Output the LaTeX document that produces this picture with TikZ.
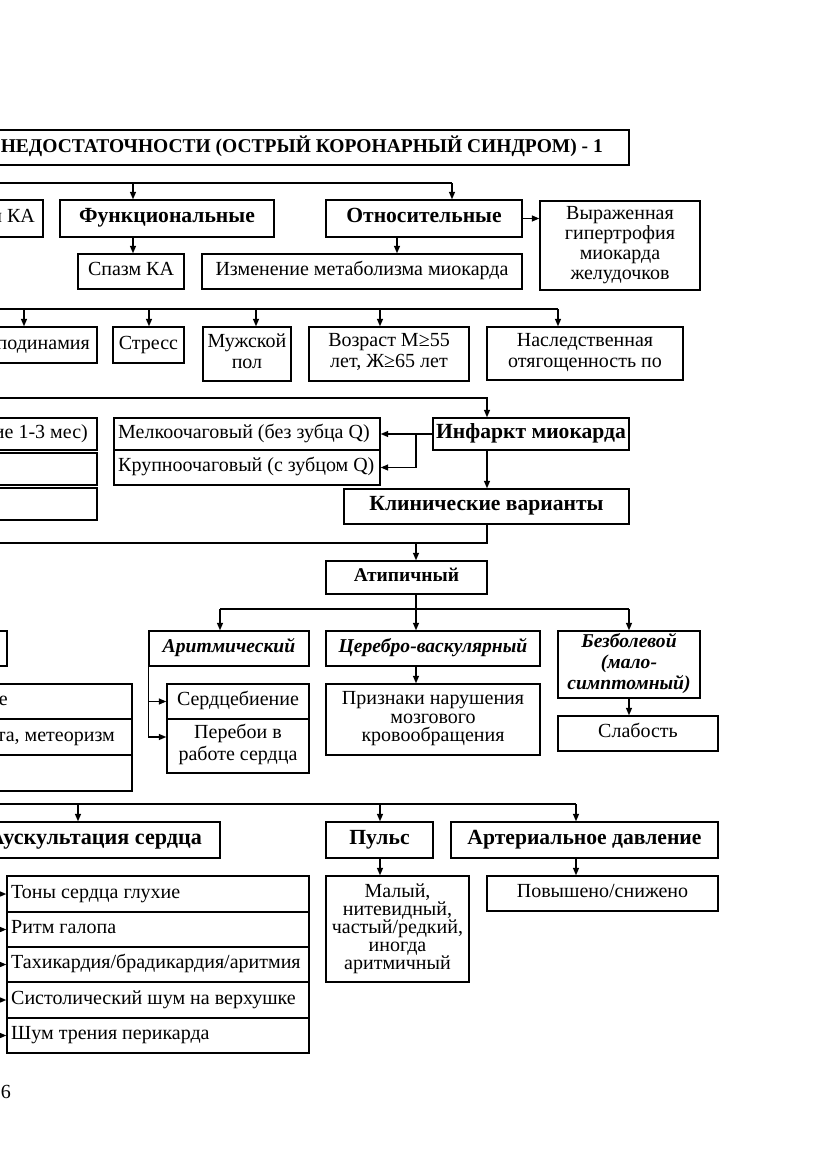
\documentclass[tikz,border=0pt]{standalone}
\usepackage{fontspec}
\setmainfont{Liberation Serif}
\usetikzlibrary{arrows.meta}
\newcommand\bx[7][]{%
  \pgfmathsetmacro\bxw{#5-(#3)}\pgfmathsetmacro\bxh{#6-(#4)}%
  \pgfmathsetmacro\bxx{(#3+#5)/2}\pgfmathsetmacro\bxy{(#4+#6)/2}%
  \node[box,minimum width=\bxw pt,minimum height=\bxh pt,#1] (#2) at (\bxx,\bxy) {#7};}
\begin{document}
\begin{tikzpicture}[x=1pt,y=-1pt,
  box/.style={draw,line width=1.4pt,inner sep=0pt,align=center,font=\fontsize{20}{20}\selectfont,
    execute at begin node=\strut,execute at end node=\strut},
  bb/.style={font=\fontsize{21.6}{22}\selectfont\bfseries},
  bi/.style={font=\fontsize{19.6}{21}\selectfont\bfseries\itshape},
  txt/.style={inner sep=0pt,font=\fontsize{20}{20}\selectfont,execute at begin node=\strut},
  ln/.style={line width=1.4pt},
  arr/.style={line width=1.4pt,-{Triangle[length=7.5pt,width=6pt]}}]
\useasboundingbox (0,0) rectangle (831,1174);
\clip (0,0) rectangle (831,1174);
\fill[white] (0,0) rectangle (831,1174);

% ---- title and first level
\bx{title}{-5}{130}{629}{165}{}
\node[txt,font=\fontsize{19.5}{20}\selectfont\bfseries,anchor=east] (titletxt) at (603,147.5) {НЕДОСТАТОЧНОСТИ (ОСТРЫЙ КОРОНАРНЫЙ СИНДРОМ) - 1};
\bx{orgka}{-5}{200}{43}{237}{}
\node[txt,anchor=east] (orgkatxt) at (35,218.5) {и КА};
\bx[bb]{funk}{60}{200}{274}{237}{Функциональные}
\bx[bb]{otn}{326}{200}{522}{237}{Относительные}
\bx{vyr}{540}{201}{700}{290}{Выраженная\\гипертрофия\\миокарда\\желудочков}
\bx{spazm}{78}{254}{184}{289}{Спазм КА}
\bx{izm}{202}{254}{522}{289}{Изменение метаболизма миокарда}

\coordinate (bus1) at (-5,183);
\coordinate (b1a) at (133,183);
\coordinate (b1b) at (452,183);
\coordinate (c1) at (397,0);
\draw[ln] (bus1) -- (b1b);
\draw[arr] (b1a) -- (b1a |- funk.north);
\draw[arr] (b1b) -- (b1b |- otn.north);
\draw[arr] (otn.east) -- (otn.east -| vyr.west);
\draw[arr] (b1a |- funk.south) -- (b1a |- spazm.north);
\draw[arr] (c1 |- otn.south) -- (c1 |- izm.north);

% ---- risk factors
\bx{gipo}{-5}{327}{97}{363}{}
\node[txt,anchor=east] (gipotxt) at (90,345) {подинамия};
\bx{stress}{113}{327}{184}{363}{Стресс}
\bx[font=\fontsize{20}{21}\selectfont]{muzh}{203}{327}{291}{381}{Мужской\\пол}
\bx[font=\fontsize{20}{21}\selectfont]{vozr}{309}{327}{469}{381}{Возраст М≥55\\лет, Ж≥65 лет}
\bx[font=\fontsize{20}{21}\selectfont]{nasl}{487}{327}{683}{380}{Наследственная\\отягощенность по}
\coordinate (bus2) at (-5,309);
\coordinate (b2e) at (558,309);
\draw[ln] (bus2) -- (b2e);
\foreach \xx/\nn in {24/gipo,149/stress,256/muzh,380/vozr,558/nasl}
  \draw[arr] (\xx,309) -- (\xx,309 |- \nn.north);

% ---- infarction
\coordinate (bus3) at (-5,398);
\coordinate (c3) at (487,0);
\coordinate (c2) at (416,0);
\bx{l1}{-5}{418}{97}{450}{}
\node[txt,anchor=east] (l1txt) at (88,434) {ие 1-3 мес)};
\bx{l2}{-5}{453}{97}{485}{}
\bx{l3}{-5}{488}{97}{520}{}
\bx{melk}{114}{418}{380}{450}{}
\node[txt,anchor=west] (melktxt) at (118,434) {Мелкоочаговый (без зубца Q)};
\bx{krup}{114}{450}{380}{485}{}
\node[txt,anchor=west] (kruptxt) at (118,467.5) {Крупноочаговый (с зубцом Q)};
\bx[bb]{infarkt}{433}{418}{629}{450}{Инфаркт миокарда}
\bx[bb]{klin}{344}{489}{629}{524}{Клинические варианты}
\draw[arr] (bus3) -| (c3 |- infarkt.north);
\draw[arr] (infarkt.west) -- (infarkt.west -| melk.east);
\draw[arr] (c2 |- infarkt.west) |- (krup.east);
\draw[arr] (c3 |- infarkt.south) -- (c3 |- klin.north);
\coordinate (bus4) at (-5,543);
\draw[ln] (c3 |- klin.south) |- (bus4);
\bx[font=\fontsize{19.5}{20}\selectfont\bfseries]{atip}{326}{561}{487}{594}{Атипичный}
\draw[arr] (c2 |- bus4) -- (c2 |- atip.north);

% ---- atypical variants
\coordinate (b5a) at (220,609);
\coordinate (b5b) at (629,609);
\bx{lp}{-5}{631}{7}{666}{}
\bx[bi]{aritm}{149}{631}{309}{666}{Аритмический}
\bx[bi]{cereb}{326}{631}{540}{666}{Церебро-васкулярный}
\bx[bi]{bezb}{558}{631}{700}{698}{Безболевой\\(мало-\\симптомный)}
\bx{slab}{558}{716}{718}{751}{Слабость}
\bx[font=\fontsize{20}{18.5}\selectfont]{prizn}{326}{684}{540}{755}{Признаки нарушения\\мозгового\\кровообращения}
\bx{serd}{167}{684}{309}{719}{Сердцебиение}
\bx[font=\fontsize{20}{22}\selectfont]{pereb}{167}{719}{309}{773}{Перебои в\\работе сердца}
\draw[ln] (b5a) -- (b5b);
\draw[arr] (b5a) -- (b5a |- aritm.north);
\draw[arr] (b5b) -- (b5b |- bezb.north);
\draw[arr] (c2 |- atip.south) -- (c2 |- cereb.north);
\draw[arr] (c2 |- cereb.south) -- (c2 |- prizn.north);
\draw[arr] (b5b |- bezb.south) -- (b5b |- slab.north);
\coordinate (c5) at (0,737);
\draw[arr] (aritm.south west) |- (serd.west);
\draw[arr] (aritm.south west) |- (pereb.west |- c5);

\bx{e1}{-5}{684}{132}{719}{}
\node[txt,anchor=east] (e1txt) at (8,701) {е};
\bx{e2}{-5}{719}{132}{755}{}
\node[txt,anchor=east] (e2txt) at (115,737) {та, метеоризм};
\bx{e3}{-5}{755}{132}{791}{}

% ---- examination
\coordinate (bus6) at (-5,804);
\coordinate (b6a) at (78,804);
\coordinate (b6b) at (380,804);
\coordinate (b6c) at (576,804);
\bx{ausk}{-5}{822}{220}{858}{}
\node[txt,font=\fontsize{22.1}{22}\selectfont\bfseries,anchor=east] (ausktxt) at (202,840) {Аускультация сердца};
\bx[bb]{puls}{326}{822}{433}{858}{Пульс}
\bx[bb]{ad}{451}{822}{718}{858}{Артериальное давление}
\bx[font=\fontsize{20}{18}\selectfont]{maly}{326}{876}{469}{982}{Малый,\\нитевидный,\\частый/редкий,\\иногда\\аритмичный}
\bx{pov}{487}{876}{718}{911}{Повышено/снижено}
\draw[ln] (bus6) -- (b6c);
\draw[arr] (b6a) -- (b6a |- ausk.north);
\draw[arr] (b6b) -- (b6b |- puls.north);
\draw[arr] (b6c) -- (b6c |- ad.north);
\draw[arr] (b6b |- puls.south) -- (b6b |- maly.north);
\draw[arr] (b6c |- ad.south) -- (b6c |- pov.north);

\bx{s1}{7}{876}{309}{912}{}
\bx{s2}{7}{912}{309}{947}{}
\bx{s3}{7}{947}{309}{982}{}
\bx{s4}{7}{982}{309}{1018}{}
\bx{s5}{7}{1018}{309}{1053}{}
\node[txt,anchor=west] (s1txt) at (11,894) {Тоны сердца глухие};
\node[txt,anchor=west] (s2txt) at (11,929.5) {Ритм галопа};
\node[txt,anchor=west] (s3txt) at (11,964.5) {Тахикардия/брадикардия/аритмия};
\node[txt,anchor=west] (s4txt) at (11,1000) {Систолический шум на верхушке};
\node[txt,anchor=west] (s5txt) at (11,1035.5) {Шум трения перикарда};
\coordinate (lft) at (-5,0);
\foreach \nn in {s1,s2,s3,s4,s5}
  \draw[arr] (lft |- \nn.west) -- (\nn.west);

\node[txt] (pnum) at (6,1094) {6};
\end{tikzpicture}
\end{document}
